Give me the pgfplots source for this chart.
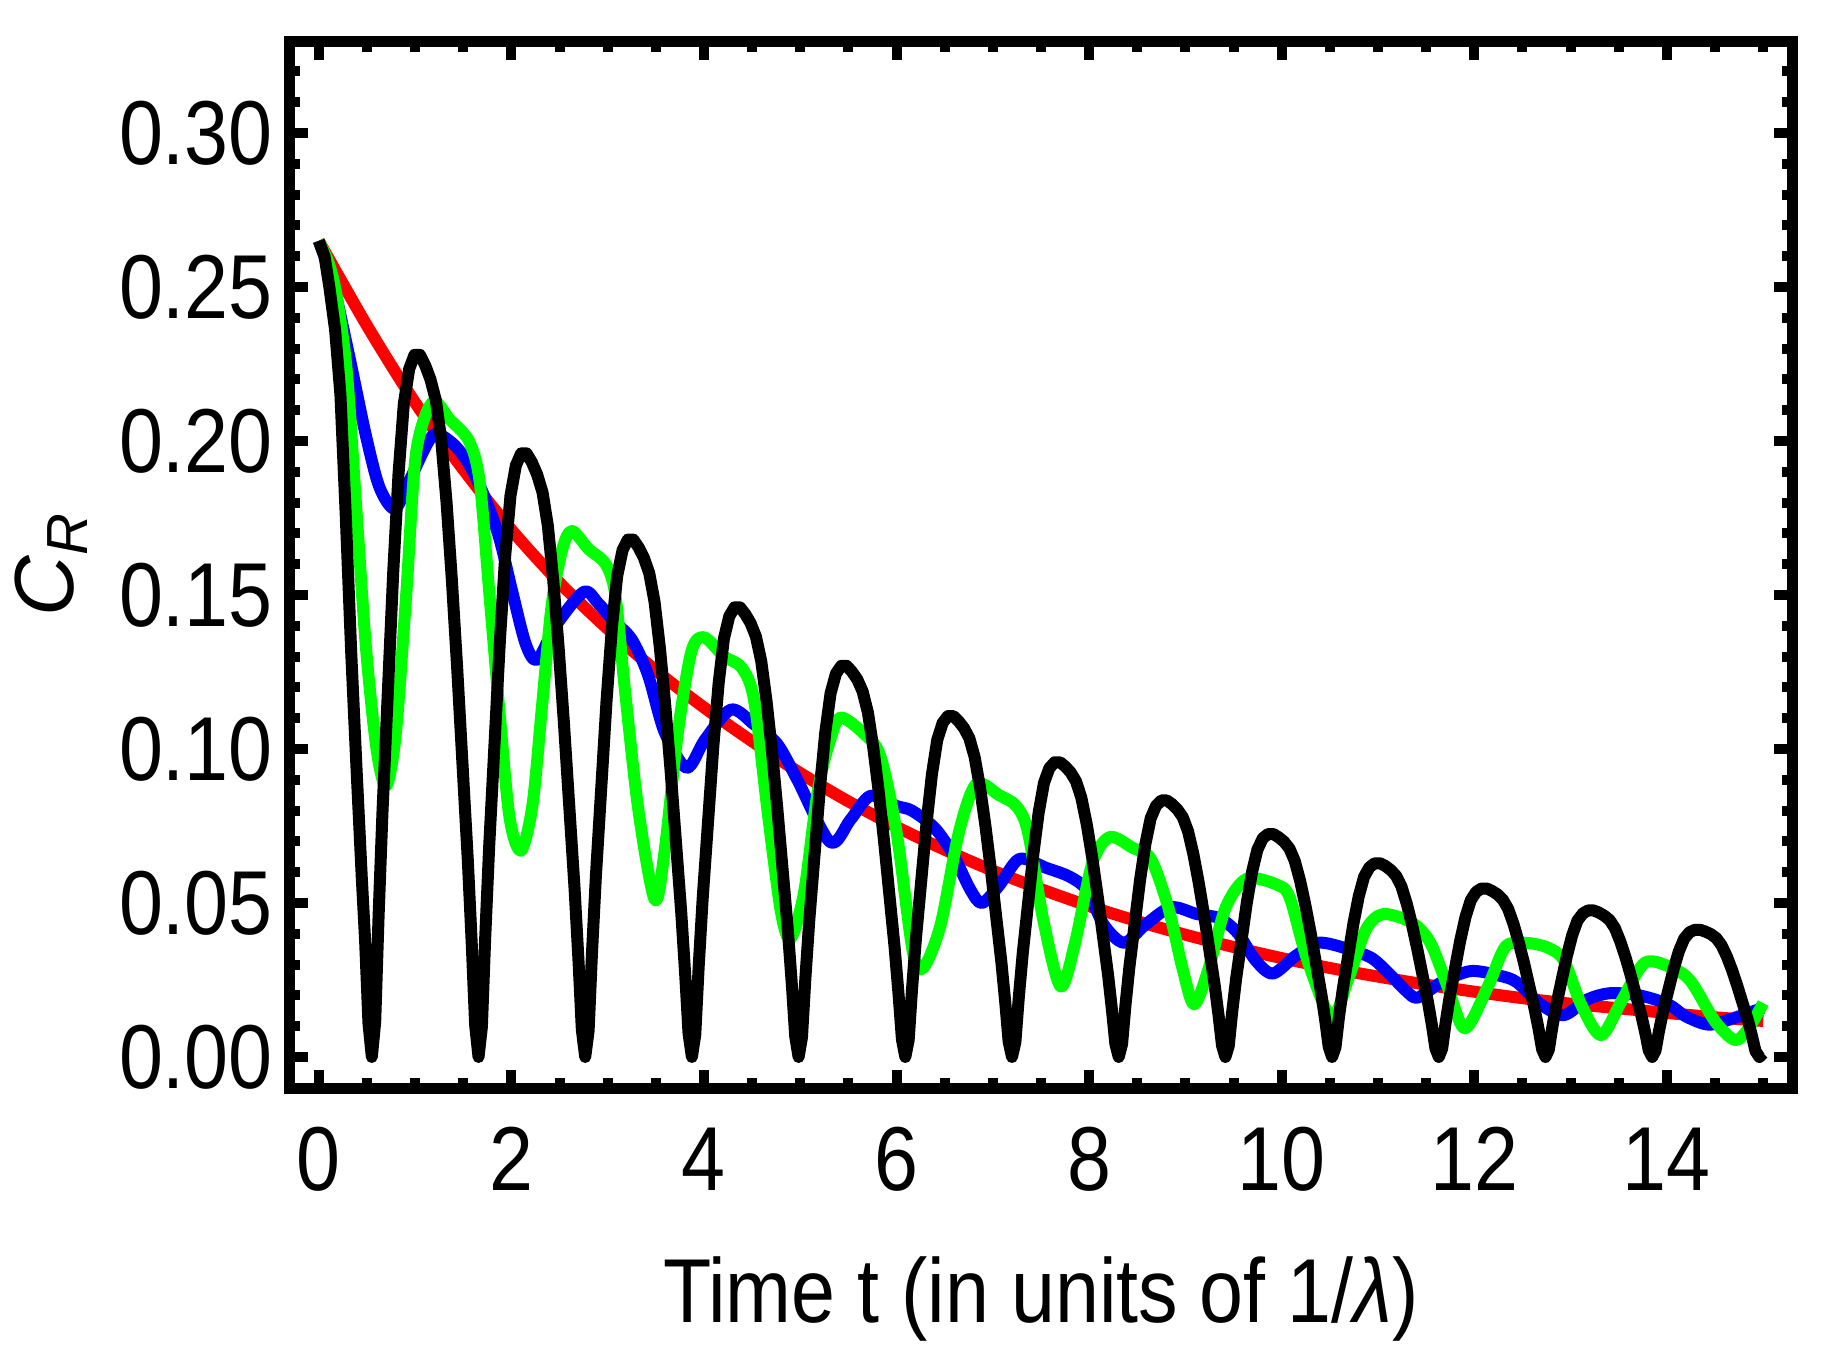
\documentclass[border=0pt]{standalone}
\usepackage{fontspec}
\setmainfont{Liberation Sans}[FakeStretch=0.87]
\newfontfamily\yfont{Liberation Sans}
\usepackage{pgfplots}
\pgfplotsset{compat=1.18}
\begin{document}
\fontsize{22.7}{27}\selectfont
\begin{tikzpicture}
\begin{axis}[
  at={(0pt,0pt)}, anchor=south west,
  scale only axis, width=375.7pt, height=261.7pt,
  xmin=-0.303, xmax=15.303, ymin=-0.0102, ymax=0.3297,
  axis line style={line width=2.75pt},
  tick align=inside,
  tick style={line width=2.5pt, black},
  major tick length=4.5pt, minor tick length=2.7pt,
  xtick={0,2,4,6,8,10,12,14},
  minor xtick={0.5,1,1.5,2.5,3,3.5,4.5,5,5.5,6.5,7,7.5,8.5,9,9.5,10.5,11,11.5,12.5,13,13.5,14.5,15},
  ytick={0,0.05,0.10,0.15,0.20,0.25,0.30},
  minor ytick={0.01,0.02,0.03,0.04,0.06,0.07,0.08,0.09,0.11,0.12,0.13,0.14,0.16,0.17,0.18,0.19,0.21,0.22,0.23,0.24,0.26,0.27,0.28,0.29,0.31,0.32},
  scaled y ticks=false,
  /pgf/number format/assume math mode=true,
  yticklabel style={/pgf/number format/.cd, fixed, fixed zerofill, precision=2, /tikz/.cd, anchor=east, inner sep=0pt, xshift=-4pt},
  xticklabel style={anchor=base, inner sep=0pt, yshift=-25.4pt},
  every axis x label/.style={at={(axis description cs:0.5,0)}, anchor=base, inner sep=0pt, yshift=-58.6pt},
  every axis y label/.style={at={(axis description cs:-0.144,0.5)}, rotate=90, anchor=base, inner sep=0pt},
  xlabel={Time t (in units of 1/\textit{λ})},
  ylabel={{\yfont\fontsize{21}{25}\selectfont\textit{C}\raisebox{-3.5pt}{\fontsize{14.5}{17}\selectfont\textit{R}}}},
]
% red
\addplot[red, line width=3pt, smooth, line join=round] coordinates {
(0,0.265) (0.5,0.2375) (1,0.2125) (1.5,0.1908) (2,0.1712) (2.5,0.1540) (3,0.1390) (3.5,0.1255) (4,0.1135) (4.5,0.1025) (5,0.0922) (5.5,0.0830) (6,0.0747) (6.5,0.0673) (7,0.0605) (7.5,0.0545) (8,0.0490) (8.5,0.0441) (9,0.0397) (9.5,0.0357) (10,0.0321) (10.5,0.0289) (11,0.0261) (11.5,0.0235) (12,0.0212) (12.5,0.0191) (13,0.0173) (13.5,0.0158) (14,0.0143) (14.5,0.0129) (15,0.0117)
};
% blue
\addplot[blue, line width=3pt, smooth, line join=round] coordinates {
(0,0.265) (0.15,0.251) (0.32,0.227) (0.49,0.2017) (0.63,0.185) (0.79,0.178) (0.94,0.187) (1.18,0.2017) (1.36,0.200) (1.53,0.194) (1.70,0.1835) (1.87,0.169) (2.01,0.151) (2.15,0.134) (2.27,0.129) (2.46,0.140) (2.75,0.151) (2.90,0.1474) (3.05,0.142) (3.25,0.1356) (3.42,0.124) (3.59,0.1056) (3.82,0.0939) (4.01,0.103) (4.28,0.1128) (4.52,0.108) (4.76,0.1017) (4.97,0.090) (5.31,0.0698) (5.52,0.077) (5.73,0.0848) (6.0,0.0815) (6.159,0.0800) (6.398,0.0743) (6.588,0.0657) (6.767,0.0543) (6.887,0.050) (7.066,0.0557) (7.276,0.0643) (7.555,0.0614) (7.794,0.0586) (7.974,0.0543) (8.153,0.0429) (8.362,0.0371) (8.582,0.0429) (8.851,0.0486) (9.120,0.0464) (9.359,0.045) (9.549,0.040) (9.728,0.0314) (9.908,0.0271) (10.147,0.0329) (10.386,0.0371) (10.695,0.035) (10.935,0.0321) (11.114,0.0271) (11.294,0.0214) (11.413,0.0193) (11.662,0.0243) (11.962,0.0279) (12.261,0.0264) (12.440,0.0243) (12.689,0.0171) (12.929,0.0136) (13.168,0.0186) (13.407,0.0207) (13.716,0.020) (14.015,0.0171) (14.195,0.0132) (14.434,0.0105) (14.683,0.0125) (15.0,0.0160)
};
% green
\addplot[green, line width=3pt, smooth, line join=round] coordinates {
(0,0.265) (0.1,0.258) (0.18,0.248) (0.29,0.223) (0.39,0.178) (0.49,0.133) (0.6,0.100) (0.70,0.088) (0.80,0.105) (0.91,0.151) (1.01,0.196) (1.18,0.2126) (1.36,0.207) (1.56,0.200) (1.67,0.187) (1.77,0.151) (1.87,0.1145) (1.98,0.078) (2.10,0.067) (2.22,0.082) (2.32,0.1145) (2.42,0.147) (2.53,0.165) (2.63,0.1708) (2.80,0.165) (2.98,0.160) (3.08,0.150) (3.18,0.119) (3.32,0.080) (3.49,0.051) (3.59,0.0665) (3.73,0.1056) (3.87,0.1317) (4.0,0.1363) (4.21,0.130) (4.39,0.1265) (4.52,0.116) (4.66,0.080) (4.8,0.047) (4.9,0.0385) (5.04,0.0535) (5.18,0.086) (5.31,0.103) (5.42,0.1102) (5.66,0.105) (5.83,0.0978) (6.0,0.073) (6.17,0.034) (6.28,0.029) (6.458,0.043) (6.648,0.073) (6.827,0.0886) (7.066,0.085) (7.246,0.0814) (7.365,0.073) (7.525,0.0443) (7.704,0.0229) (7.854,0.0371) (8.033,0.0629) (8.213,0.0714) (8.452,0.0679) (8.641,0.0643) (8.821,0.0486) (8.971,0.0286) (9.090,0.0171) (9.240,0.0286) (9.419,0.0486) (9.639,0.0579) (9.968,0.0557) (10.087,0.0514) (10.267,0.0314) (10.516,0.0129) (10.695,0.0257) (10.875,0.0414) (11.054,0.0464) (11.353,0.0436) (11.543,0.0371) (11.722,0.0229) (11.902,0.0093) (12.141,0.0229) (12.320,0.0357) (12.510,0.0371) (12.749,0.0357) (12.929,0.0314) (13.108,0.0171) (13.317,0.0071) (13.536,0.0186) (13.776,0.0307) (14.074,0.0286) (14.254,0.0243) (14.504,0.0114) (14.713,0.0055) (14.862,0.010) (15.0,0.0175)
};
% black
\addplot[black, line width=3pt, line join=round] coordinates {
(0,0.265) (0.06,0.260) (0.11,0.250) (0.17,0.236) (0.225,0.215) (0.28,0.176) (0.336,0.132) (0.39,0.095) (0.447,0.058) (0.481,0.038) (0.516,0.011) (0.551,0)
(0.586,0.0114) (0.621,0.0456) (0.662,0.0798) (0.773,0.1573) (0.828,0.1892) (0.883,0.2120) (0.939,0.2234) (0.994,0.228) (1.050,0.228) (1.105,0.2246) (1.160,0.2200) (1.216,0.2132) (1.271,0.2006) (1.327,0.1801) (1.382,0.1550) (1.437,0.1265) (1.548,0.0638) (1.589,0.0365) (1.624,0.0103)
(1.659,0)
(1.694,0.0098) (1.729,0.0392) (1.770,0.0686) (1.881,0.1352) (1.936,0.1627) (1.991,0.1823) (2.047,0.1921) (2.102,0.196) (2.158,0.196) (2.213,0.1931) (2.268,0.1891) (2.324,0.1833) (2.379,0.1725) (2.435,0.1548) (2.490,0.1333) (2.545,0.1088) (2.656,0.0549) (2.697,0.0314) (2.732,0.0088)
(2.767,0)
(2.802,0.0084) (2.837,0.0336) (2.878,0.0588) (2.989,0.1159) (3.044,0.1394) (3.099,0.1562) (3.155,0.1646) (3.210,0.168) (3.266,0.168) (3.321,0.1655) (3.376,0.1621) (3.432,0.1571) (3.487,0.1478) (3.543,0.1327) (3.598,0.1142) (3.653,0.0932) (3.764,0.0470) (3.805,0.0269) (3.840,0.0076)
(3.875,0)
(3.910,0.0073) (3.945,0.0292) (3.986,0.0511) (4.097,0.1007) (4.152,0.1212) (4.207,0.1358) (4.263,0.1431) (4.318,0.146) (4.374,0.146) (4.429,0.1438) (4.484,0.1409) (4.540,0.1365) (4.595,0.1285) (4.651,0.1153) (4.706,0.0993) (4.761,0.0810) (4.872,0.0409) (4.913,0.0234) (4.948,0.0066)
(4.983,0)
(5.018,0.0064) (5.053,0.0254) (5.094,0.0445) (5.205,0.0876) (5.260,0.1054) (5.315,0.1181) (5.371,0.1245) (5.426,0.127) (5.482,0.127) (5.537,0.1251) (5.592,0.1226) (5.648,0.1187) (5.703,0.1118) (5.759,0.1003) (5.814,0.0864) (5.869,0.0705) (5.980,0.0356) (6.021,0.0203) (6.056,0.0057)
(6.091,0)
(6.126,0.0055) (6.161,0.0221) (6.202,0.0387) (6.313,0.0764) (6.368,0.0919) (6.423,0.1030) (6.479,0.1085) (6.534,0.1107) (6.590,0.1107) (6.645,0.1090) (6.700,0.1068) (6.756,0.1035) (6.811,0.0974) (6.867,0.0875) (6.922,0.0753) (6.977,0.0614) (7.088,0.0310) (7.129,0.0177) (7.164,0.0050)
(7.199,0)
(7.234,0.0048) (7.269,0.0191) (7.310,0.0335) (7.421,0.0660) (7.476,0.0794) (7.531,0.0890) (7.587,0.0938) (7.642,0.0957) (7.698,0.0957) (7.753,0.0943) (7.808,0.0924) (7.864,0.0895) (7.919,0.0842) (7.975,0.0756) (8.030,0.0651) (8.085,0.0531) (8.196,0.0268) (8.237,0.0153) (8.272,0.0043)
(8.307,0)
(8.342,0.0042) (8.377,0.0167) (8.418,0.0292) (8.529,0.0575) (8.584,0.0691) (8.639,0.0775) (8.695,0.0816) (8.750,0.0833) (8.806,0.0833) (8.861,0.0821) (8.916,0.0804) (8.972,0.0779) (9.027,0.0733) (9.083,0.0658) (9.138,0.0566) (9.193,0.0462) (9.304,0.0233) (9.345,0.0133) (9.380,0.0037)
(9.415,0)
(9.450,0.0036) (9.485,0.0145) (9.526,0.0253) (9.637,0.0500) (9.692,0.0601) (9.747,0.0673) (9.803,0.0710) (9.858,0.0724) (9.914,0.0724) (9.969,0.0713) (10.024,0.0699) (10.080,0.0677) (10.135,0.0637) (10.191,0.0572) (10.246,0.0492) (10.301,0.0402) (10.412,0.0203) (10.453,0.0116) (10.488,0.0033)
(10.523,0)
(10.558,0.0031) (10.593,0.0126) (10.634,0.0220) (10.745,0.0434) (10.800,0.0522) (10.855,0.0585) (10.911,0.0616) (10.966,0.0629) (11.022,0.0629) (11.077,0.0620) (11.132,0.0607) (11.188,0.0588) (11.243,0.0554) (11.299,0.0497) (11.354,0.0428) (11.409,0.0349) (11.520,0.0176) (11.561,0.0101) (11.596,0.0028)
(11.631,0)
(11.666,0.0027) (11.701,0.0109) (11.742,0.0191) (11.853,0.0377) (11.908,0.0454) (11.963,0.0509) (12.019,0.0536) (12.074,0.0547) (12.130,0.0547) (12.185,0.0539) (12.240,0.0528) (12.296,0.0511) (12.351,0.0481) (12.407,0.0432) (12.462,0.0372) (12.517,0.0304) (12.628,0.0153) (12.669,0.0088) (12.704,0.0025)
(12.739,0)
(12.774,0.0024) (12.809,0.0095) (12.850,0.0167) (12.961,0.0328) (13.016,0.0395) (13.071,0.0443) (13.127,0.0466) (13.182,0.0476) (13.238,0.0476) (13.293,0.0469) (13.348,0.0459) (13.404,0.0445) (13.459,0.0419) (13.515,0.0376) (13.570,0.0324) (13.625,0.0264) (13.736,0.0133) (13.777,0.0076) (13.812,0.0021)
(13.847,0)
(13.882,0.0021) (13.917,0.0083) (13.958,0.0145) (14.069,0.0285) (14.124,0.0343) (14.179,0.0384) (14.235,0.0405) (14.290,0.0413) (14.346,0.0413) (14.401,0.0407) (14.456,0.0399) (14.512,0.0386) (14.567,0.0363) (14.623,0.0326) (14.678,0.0281) (14.733,0.0229) (14.844,0.0116) (14.885,0.0066) (14.920,0.0019)
(14.96,0) (15.0,0.0012)
};
\end{axis}
\pgfresetboundingbox
\path[use as bounding box] (-72.4pt,-68.4pt) rectangle (383.6pt,272.1pt);
\end{tikzpicture}
\end{document}
